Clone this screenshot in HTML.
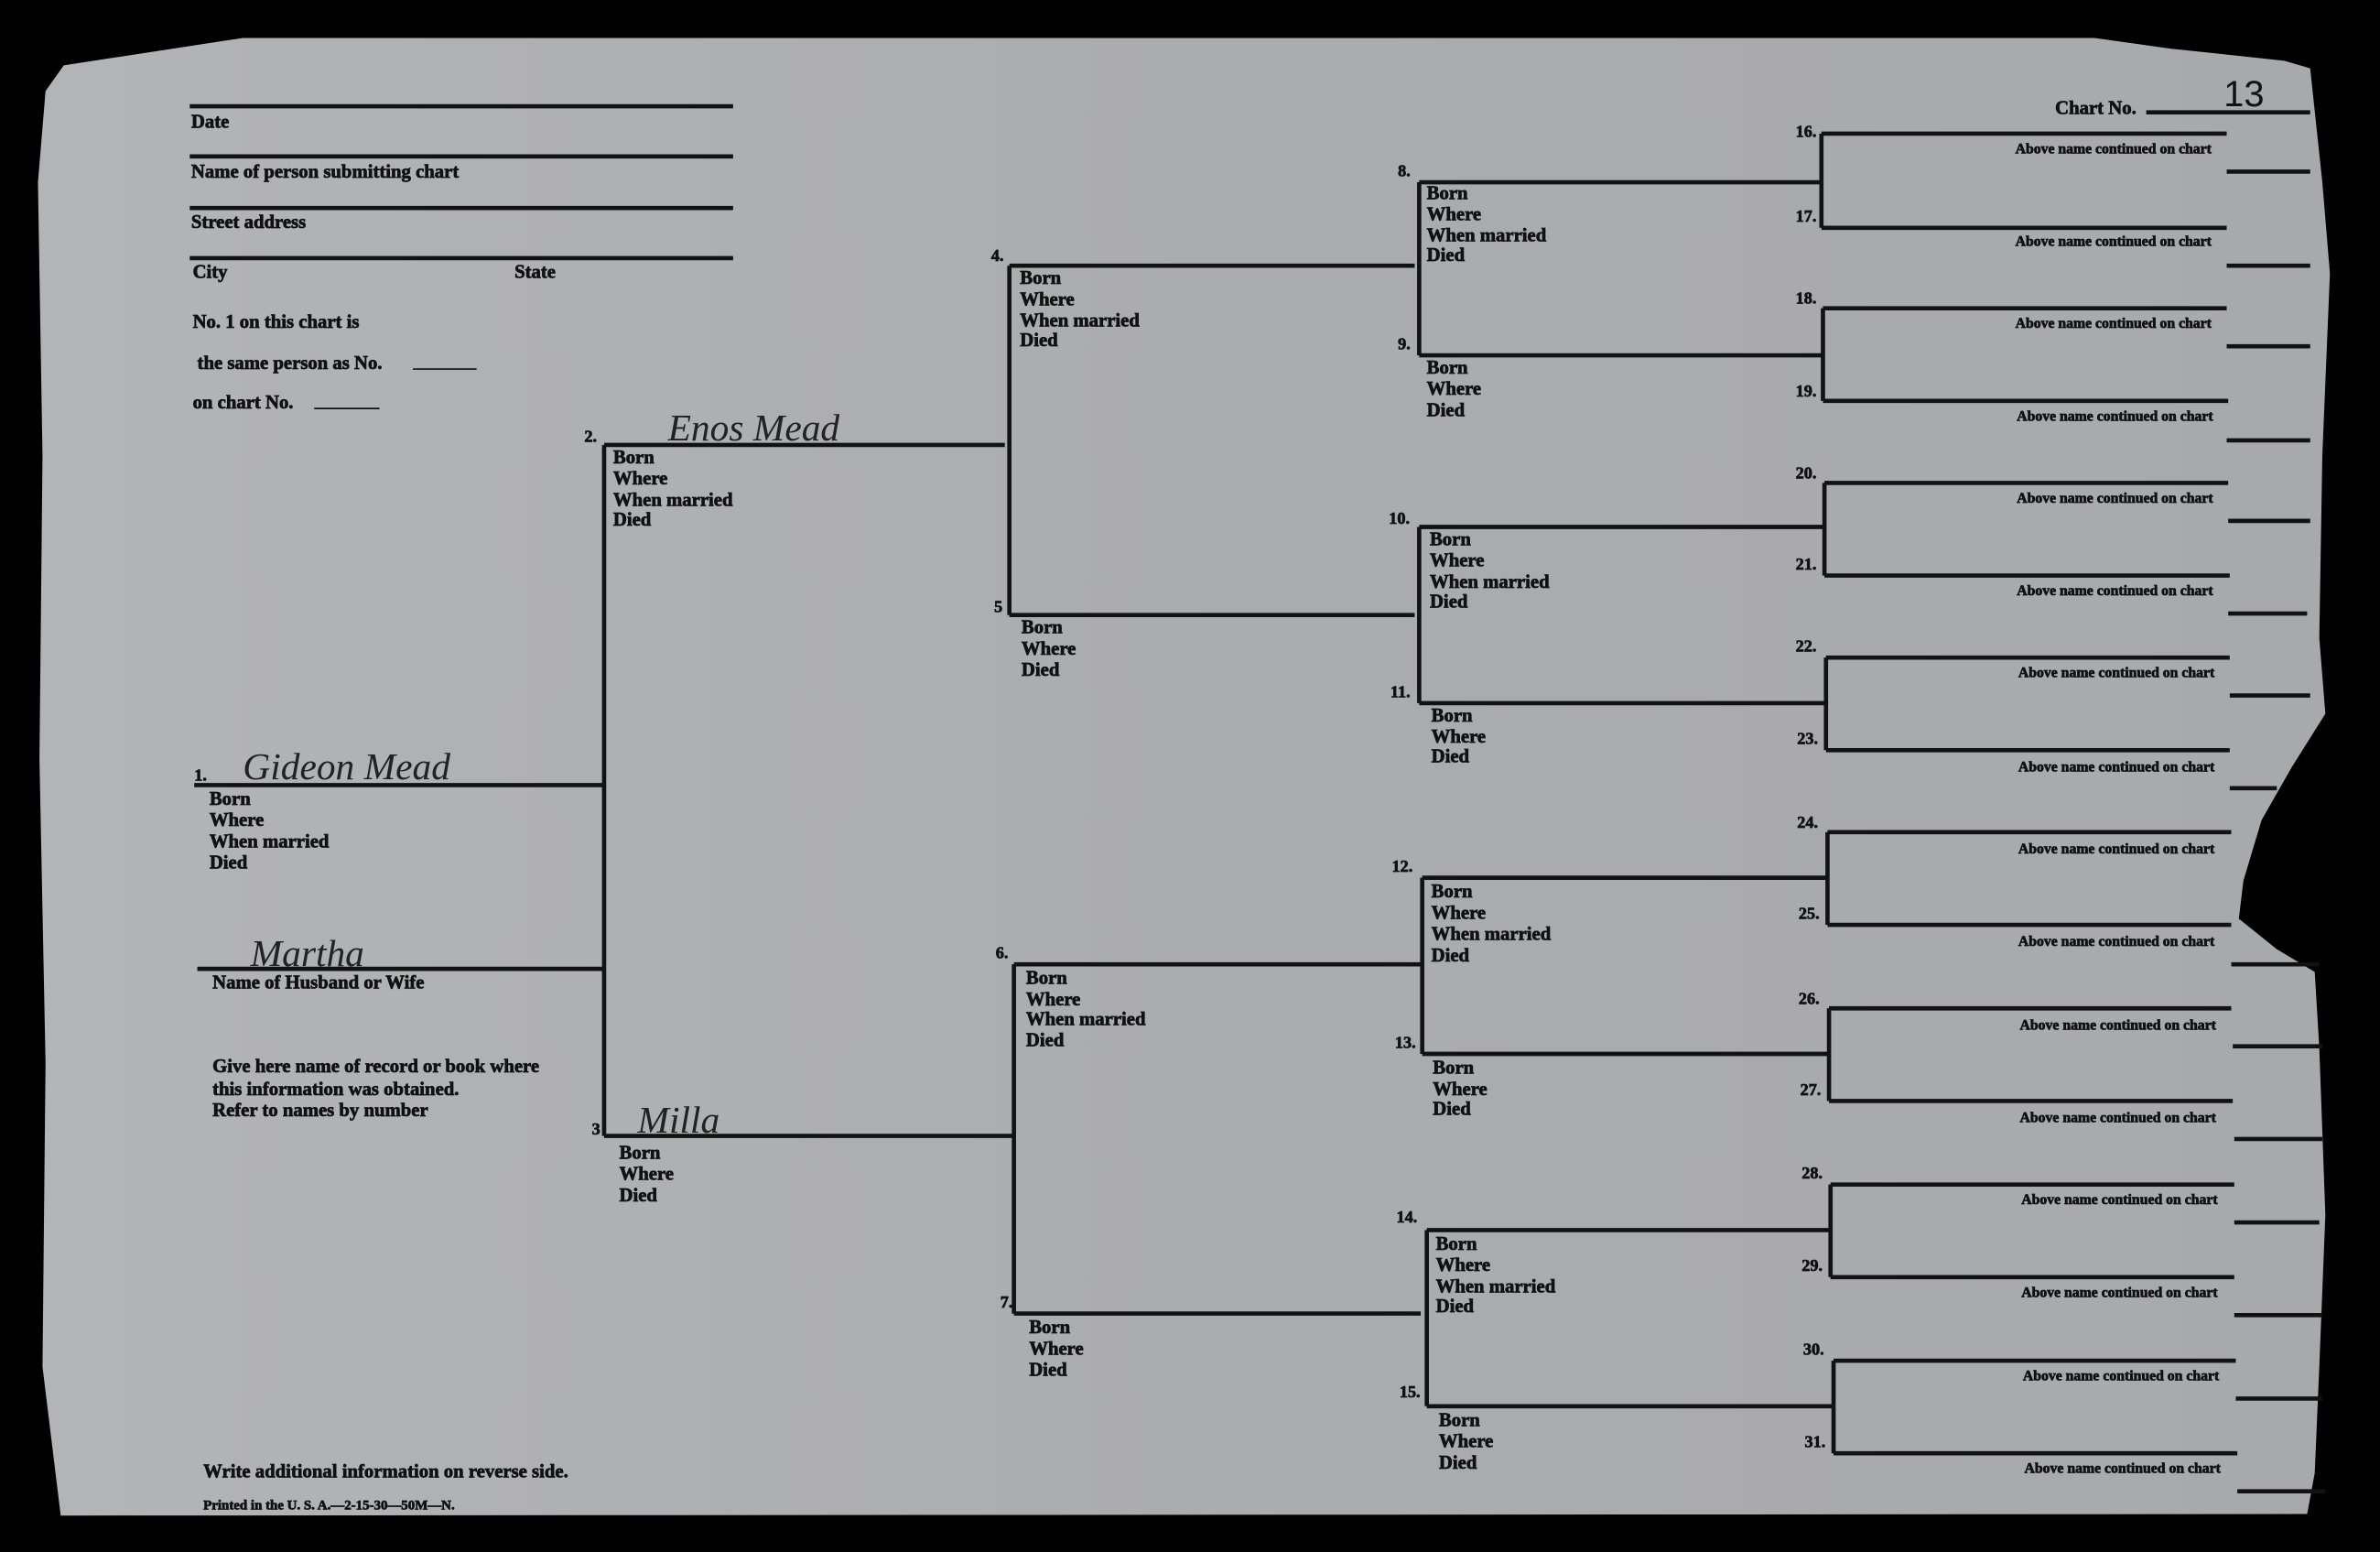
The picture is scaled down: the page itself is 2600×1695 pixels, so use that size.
<!DOCTYPE html>
<html><head><meta charset="utf-8"><style>
html,body{margin:0;padding:0;background:#000;}
svg{display:block;}
text{font-family:"Liberation Serif",serif;font-weight:bold;fill:#111;stroke:#111;stroke-width:0.45px;}
.s{font-size:12.5px;}
.a{font-size:9.5px;text-anchor:end;}
.n{font-size:11px;}
.h{font-family:"Liberation Serif",serif;font-style:italic;font-weight:normal;font-size:25px;fill:#222;stroke:none;}
</style></head><body>
<svg width="2600" height="1695" viewBox="0 0 1568 1022" preserveAspectRatio="none" xmlns="http://www.w3.org/2000/svg">
<defs><linearGradient id="g" x1="0" x2="1" y1="0" y2="0"><stop offset="0" stop-color="#b3b4b7"/><stop offset="0.5" stop-color="#abacb0"/><stop offset="1" stop-color="#a8a9ad"/></linearGradient></defs>
<rect width="1568" height="1022" fill="#000"/>
<polygon fill="url(#g)" points="42,43 160,25 1380,25 1430,32 1505,40 1522,45 1530,120 1535,180 1530,300 1528,420 1532,470 1510,505 1490,540 1478,580 1475,605 1500,625 1525,640 1528,690 1532,800 1530,850 1528,900 1525,970 1520,997 40,998 28,900 30,700 26,500 28,300 25,120 30,60"/>
<g stroke="#121212" stroke-width="2.8" fill="none">
<path d="M125 70H483M125 103H483M125 137H483M125 170H483"/>
<path d="M272 243H314M207 269H250" stroke-width="1"/>
<path d="M128 517H397M130 638H397M398 293V748M398 293H662M398 748H668"/>
<path d="M665 175V405M665 175H932M665 405H932M668 635V865M668 635H936M668 865H936"/>
<path d="M935 120V234M935 120H1200M935 234H1201M935 347V463M935 347H1202M935 463H1203M937 578V694M937 578H1204M937 694H1205M940 810V926M940 810H1206M940 926H1208"/>
<path d="M1200 88V150M1200 88H1467M1200 150H1467M1201 203V264M1201 203H1467M1201 264H1468M1202 318V379M1202 318H1468M1202 379H1469M1203 433V494M1203 433H1469M1203 494H1469M1204 548V609M1204 548H1470M1204 609H1470M1205 664V725M1205 664H1470M1205 725H1471M1206 780V841M1206 780H1472M1206 841H1472M1208 896V957M1208 896H1473M1208 957H1474"/>
<path d="M1414 74H1522M1467 113H1522M1467 175H1522M1467 228H1522M1467 290H1522M1468 343H1522M1468 404H1520M1469 458H1522M1469 519H1500M1470 635H1528M1471 689H1530M1472 750H1530M1472 805H1528M1472 866H1530M1473 921H1530M1474 982H1532"/>
</g>
<text class="s" x="126" y="84">Date</text>
<text class="s" x="126" y="117">Name of person submitting chart</text>
<text class="s" x="126" y="150">Street address</text>
<text class="s" x="127" y="183">City</text>
<text class="s" x="339" y="183">State</text>
<text class="s" x="127" y="216">No. 1 on this chart is</text>
<text class="s" x="130" y="243">the same person as No.</text>
<text class="s" x="127" y="269">on chart No.</text>
<text class="n" x="128" y="514">1.</text>
<text class="h" x="160" y="513">Gideon Mead</text>
<text class="s" x="138" y="530">Born</text><text class="s" x="138" y="544">Where</text><text class="s" x="138" y="558">When married</text><text class="s" x="138" y="572">Died</text>
<text class="h" x="165" y="636">Martha</text>
<text class="s" x="140" y="651">Name of Husband or Wife</text>
<text class="s" x="140" y="706">Give here name of record or book where</text>
<text class="s" x="140" y="721">this information was obtained.</text>
<text class="s" x="140" y="735">Refer to names by number</text>
<text class="n" x="385" y="291">2.</text>
<text class="h" x="440" y="290">Enos Mead</text>
<text class="s" x="404" y="305">Born</text><text class="s" x="404" y="319">Where</text><text class="s" x="404" y="333">When married</text><text class="s" x="404" y="346">Died</text>
<text class="n" x="390" y="747">3</text>
<text class="h" x="420" y="746">Milla</text>
<text class="s" x="408" y="763">Born</text><text class="s" x="408" y="777">Where</text><text class="s" x="408" y="791">Died</text>
<text class="n" x="653" y="172">4.</text>
<text class="s" x="672" y="187">Born</text><text class="s" x="672" y="201">Where</text><text class="s" x="672" y="215">When married</text><text class="s" x="672" y="228">Died</text>
<text class="n" x="655" y="403">5</text>
<text class="s" x="673" y="417">Born</text><text class="s" x="673" y="431">Where</text><text class="s" x="673" y="445">Died</text>
<text class="n" x="656" y="631">6.</text>
<text class="s" x="676" y="648">Born</text><text class="s" x="676" y="662">Where</text><text class="s" x="676" y="675">When married</text><text class="s" x="676" y="689">Died</text>
<text class="n" x="659" y="861">7.</text>
<text class="s" x="678" y="878">Born</text><text class="s" x="678" y="892">Where</text><text class="s" x="678" y="906">Died</text>
<text class="n" x="921" y="116">8.</text>
<text class="s" x="940" y="131">Born</text><text class="s" x="940" y="145">Where</text><text class="s" x="940" y="159">When married</text><text class="s" x="940" y="172">Died</text>
<text class="n" x="921" y="230">9.</text>
<text class="s" x="940" y="246">Born</text><text class="s" x="940" y="260">Where</text><text class="s" x="940" y="274">Died</text>
<text class="n" x="915" y="345">10.</text>
<text class="s" x="942" y="359">Born</text><text class="s" x="942" y="373">Where</text><text class="s" x="942" y="387">When married</text><text class="s" x="942" y="400">Died</text>
<text class="n" x="916" y="459">11.</text>
<text class="s" x="943" y="475">Born</text><text class="s" x="943" y="489">Where</text><text class="s" x="943" y="502">Died</text>
<text class="n" x="917" y="574">12.</text>
<text class="s" x="943" y="591">Born</text><text class="s" x="943" y="605">Where</text><text class="s" x="943" y="619">When married</text><text class="s" x="943" y="633">Died</text>
<text class="n" x="919" y="690">13.</text>
<text class="s" x="944" y="707">Born</text><text class="s" x="944" y="721">Where</text><text class="s" x="944" y="734">Died</text>
<text class="n" x="920" y="805">14.</text>
<text class="s" x="946" y="823">Born</text><text class="s" x="946" y="837">Where</text><text class="s" x="946" y="851">When married</text><text class="s" x="946" y="864">Died</text>
<text class="n" x="922" y="920">15.</text>
<text class="s" x="948" y="939">Born</text><text class="s" x="948" y="953">Where</text><text class="s" x="948" y="967">Died</text>
<text class="s" x="1354" y="75">Chart No.</text>
<text style="font-family:'Liberation Sans',sans-serif;font-size:24px;font-weight:normal;stroke:none" x="1465" y="70">13</text>
<g class="n">
<text x="1183" y="90">16.</text><text x="1183" y="146">17.</text>
<text x="1183" y="200">18.</text><text x="1183" y="261">19.</text>
<text x="1183" y="315">20.</text><text x="1183" y="375">21.</text>
<text x="1183" y="429">22.</text><text x="1184" y="490">23.</text>
<text x="1184" y="545">24.</text><text x="1185" y="605">25.</text>
<text x="1185" y="661">26.</text><text x="1186" y="721">27.</text>
<text x="1187" y="776">28.</text><text x="1187" y="837">29.</text>
<text x="1188" y="892">30.</text><text x="1189" y="953">31.</text>
</g>
<g class="a">
<text x="1457" y="101">Above name continued on chart</text><text x="1457" y="162">Above name continued on chart</text>
<text x="1457" y="216">Above name continued on chart</text><text x="1458" y="277">Above name continued on chart</text>
<text x="1458" y="331">Above name continued on chart</text><text x="1458" y="392">Above name continued on chart</text>
<text x="1459" y="446">Above name continued on chart</text><text x="1459" y="508">Above name continued on chart</text>
<text x="1459" y="562">Above name continued on chart</text><text x="1459" y="623">Above name continued on chart</text>
<text x="1460" y="678">Above name continued on chart</text><text x="1460" y="739">Above name continued on chart</text>
<text x="1461" y="793">Above name continued on chart</text><text x="1461" y="854">Above name continued on chart</text>
<text x="1462" y="909">Above name continued on chart</text><text x="1463" y="970">Above name continued on chart</text>
</g>
<text class="s" x="134" y="973">Write additional information on reverse side.</text>
<text style="font-size:9px" x="134" y="994">Printed in the U. S. A.—2-15-30—50M—N.</text>
</svg>
</body></html>
